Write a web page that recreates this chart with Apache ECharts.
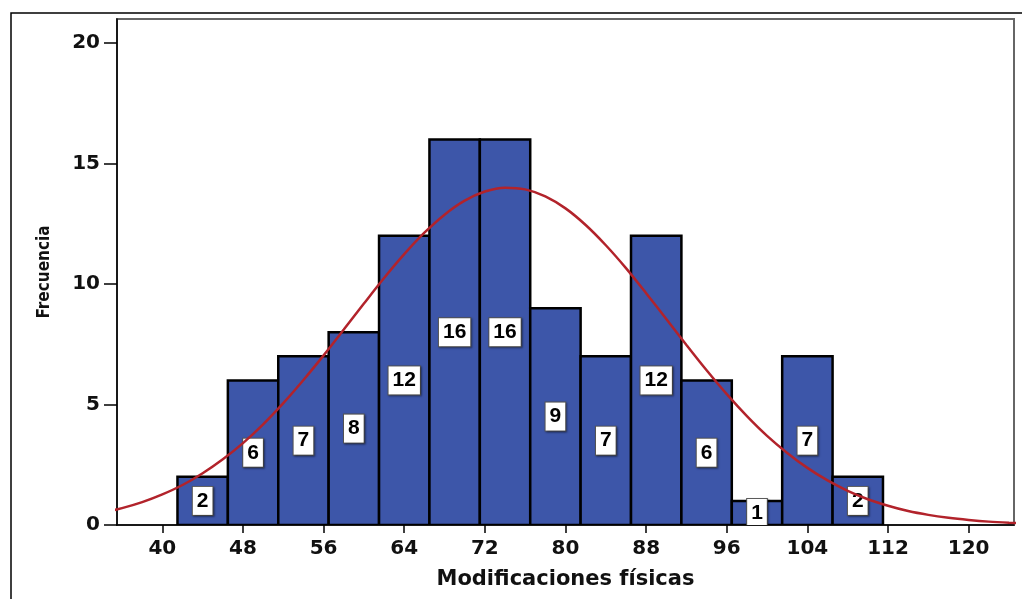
<!DOCTYPE html>
<html>
<head>
<meta charset="utf-8">
<script src="https://cdn.jsdelivr.net/npm/echarts@6/dist/echarts.min.js"></script>
<style>
html,body{margin:0;padding:0;background:#fff;}
#main{width:1022px;height:599px;}
</style>
</head>
<body>
<div id="main"></div>
<script>
// intervalos del histograma (ancho 5) y frecuencias
var binLower = [41.5, 46.5, 51.5, 56.5, 61.5, 66.5, 71.5, 76.5, 81.5, 86.5, 91.5, 96.5, 101.5, 106.5];
var binUpper = [46.5, 51.5, 56.5, 61.5, 66.5, 71.5, 76.5, 81.5, 86.5, 91.5, 96.5, 101.5, 106.5, 111.5];
var frecuencias = [2, 6, 7, 8, 12, 16, 16, 9, 7, 12, 6, 1, 7, 2];

// curva normal, valores (cada 2 unidades)
var curvaX = [32, 34, 36, 38, 40, 42, 44, 46, 48, 50, 52, 54, 56, 58, 60, 62, 64, 66, 68, 70, 72, 74, 76, 78, 80,
	82, 84, 86, 88, 90, 92, 94, 96, 98, 100, 102, 104, 106, 108, 110, 112, 114, 116, 118, 120, 122, 124, 126, 128];
var curvaY = [0.365, 0.51, 0.70, 0.95, 1.27, 1.66, 2.15, 2.73, 3.40, 4.18, 5.06, 6.02, 7.04, 8.11, 9.19, 10.25, 11.24, 12.13, 12.88, 13.46, 13.84, 14.0, 13.93, 13.64, 13.14,
	12.45, 11.61, 10.66, 9.62, 8.55, 7.47, 6.42, 5.43, 4.52, 3.70, 2.99, 2.37, 1.85, 1.42, 1.07, 0.80, 0.58, 0.42, 0.30, 0.21, 0.14, 0.095, 0.063, 0.04];

// marcas de los ejes
var xTicks = [40, 48, 56, 64, 72, 80, 88, 96, 104, 112, 120];
var yTicks = [0, 5, 10, 15, 20];

var myChart = echarts.init(document.getElementById('main'));

var barData = [];
for (var i = 0; i < frecuencias.length; i++) {
	barData.push([binLower[i], binUpper[i], frecuencias[i]]);
}
var curveData = [];
for (var j = 0; j < curvaX.length; j++) {
	curveData.push([curvaX[j], curvaY[j]]);
}

var tickFont = {color: '#111', fontFamily: 'DejaVu Sans', fontWeight: 'bold', fontSize: 20};

var option = {
	animation: false,
	backgroundColor: '#fff',
	graphic: [{
		type: 'rect',
		shape: {x: 11, y: 13, width: 1040, height: 640},
		style: {fill: 'none', stroke: '#000', lineWidth: 1.5},
		silent: true
	}],
	grid: {
		left: 117, top: 19, right: 8, bottom: 74,
		show: true, borderColor: '#666', borderWidth: 2
	},
	xAxis: {
		type: 'value',
		min: 35.5,
		max: 124.5,
		name: 'Modificaciones físicas',
		nameLocation: 'middle',
		nameGap: 44,
		nameTextStyle: {color: '#111', fontFamily: 'DejaVu Sans', fontWeight: 'bold', fontSize: 21},
		axisLine: {onZero: false, lineStyle: {color: '#000', width: 1.5}},
		axisTick: {customValues: xTicks, length: 8, lineStyle: {color: '#000', width: 1.5}},
		axisLabel: Object.assign({customValues: xTicks, margin: 14}, tickFont),
		splitLine: {show: false}
	},
	yAxis: {
		type: 'value',
		min: 0,
		max: 21,
		name: 'Frecuencia',
		nameLocation: 'middle',
		nameRotate: 90,
		nameGap: 64,
		nameTextStyle: {color: '#111', fontFamily: 'DejaVu Sans Condensed, DejaVu Sans', fontWeight: 'bold', fontSize: 17},
		axisLine: {show: true, lineStyle: {color: '#000', width: 1.5}},
		axisTick: {show: true, customValues: yTicks, length: 13, lineStyle: {color: '#000', width: 1.5}},
		axisLabel: Object.assign({customValues: yTicks, margin: 17}, tickFont),
		splitLine: {show: false}
	},
	series: [{
		type: 'custom',
		clip: true,
		z: 2,
		data: barData,
		renderItem: function (params, api) {
			var lo = api.coord([api.value(0), 0]);
			var hi = api.coord([api.value(1), api.value(2)]);
			return {
				type: 'rect',
				shape: {x: lo[0], y: hi[1], width: hi[0] - lo[0], height: lo[1] - hi[1]},
				style: {fill: '#3d56a9', stroke: '#000', lineWidth: 2.5},
				textContent: {
					style: {
						text: String(api.value(2)),
						font: 'bold 21px "Liberation Sans", Arial, sans-serif',
						fill: '#000',
						backgroundColor: '#fff',
						borderColor: '#555',
						borderWidth: 1,
						padding: [4, 4, 3, 4],
						shadowColor: 'rgba(0,0,0,0.35)',
						shadowBlur: 2,
						shadowOffsetX: 1,
						shadowOffsetY: 1
					}
				},
				textConfig: {position: 'inside'}
			};
		}
	}, {
		type: 'line',
		z: 5,
		data: curveData,
		smooth: 0.3,
		showSymbol: false,
		clip: true,
		lineStyle: {color: '#b2232b', width: 2.5}
	}]
};
myChart.setOption(option);
</script>
</body>
</html>
